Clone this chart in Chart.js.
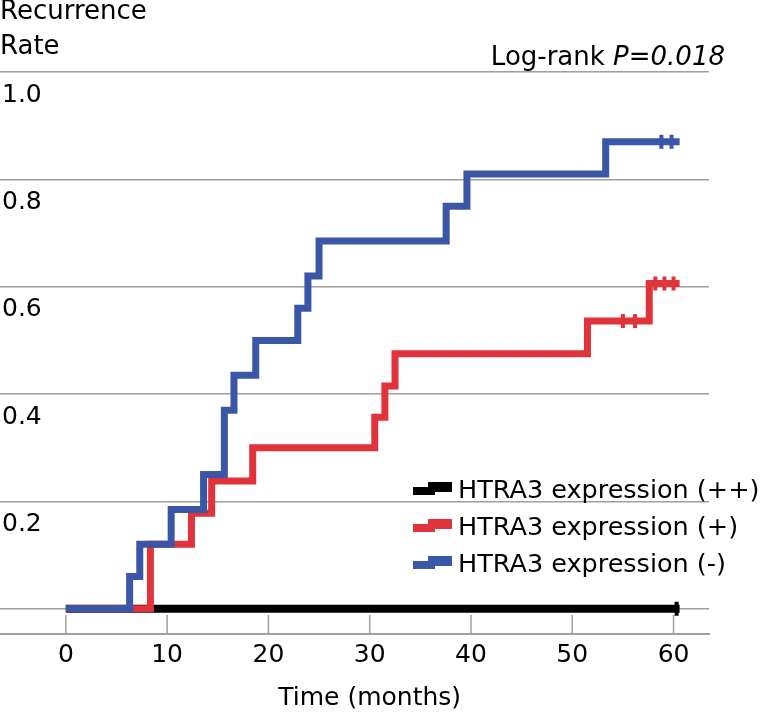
<!DOCTYPE html>
<html>
<head>
<meta charset="utf-8">
<script src="https://cdn.jsdelivr.net/npm/chart.js@4.4.1/dist/chart.umd.min.js"></script>
<style>
html, body { margin: 0; padding: 0; background: #fff; }
#wrap { width: 762px; height: 712px; }
</style>
</head>
<body>
<div id="wrap"><canvas id="kmChart" width="762" height="712"></canvas></div>
<script>
// axis ticks
var xTicks = [0, 10, 20, 30, 40, 50, 60];
var xTickLabels = ['0', '10', '20', '30', '40', '50', '60'];
var yTicks = [0, 0.2, 0.4, 0.6, 0.8, 1.0];
var yTickLabels = ['', '0.2', '0.4', '0.6', '0.8', '1.0'];

var seriesLabels = ['HTRA3 expression (++)', 'HTRA3 expression (+)', 'HTRA3 expression (-)'];
var seriesColors = ['#000000', '#e1333b', '#3a56a6'];

// HTRA3 (++) : no recurrence
var strongTimes = [0, 60.6];
var strongRates = [0, 0];
var strongCensorTimes = [60.3];
var strongCensorRates = [0];

// HTRA3 (+)
var weakTimes = [0, 8.35, 12.4, 14.4, 18.45, 30.5, 31.5, 32.5, 51.5, 57.6, 60.6];
var weakRates = [0, 0.12, 0.178, 0.238, 0.3, 0.357, 0.415, 0.475, 0.536, 0.606, 0.606];
var weakCensorTimes = [55.0, 56.2, 58.2, 59.1, 60.0];
var weakCensorRates = [0.536, 0.536, 0.606, 0.606, 0.606];

// HTRA3 (-)
var negTimes = [0, 6.3, 7.3, 10.4, 13.6, 15.65, 16.6, 18.75, 22.9, 23.9, 25.0, 37.55, 39.6, 53.3, 60.6];
var negRates = [0, 0.06, 0.12, 0.185, 0.25, 0.37, 0.435, 0.5, 0.56, 0.62, 0.685, 0.75, 0.81, 0.87, 0.87];
var negCensorTimes = [58.8, 59.8];
var negCensorRates = [0.87, 0.87];

var xTitle = 'Time (months)';
var yTitle = ['Recurrence', 'Rate'];
var pText = 'Log-rank ';
var pValue = 'P=0.018';

var fontFam = '"DejaVu Sans", sans-serif';
var gridColor = '#a0a0a0';

function toPoints(t, v) {
  return t.map(function (x, i) { return { x: x, y: v[i] }; });
}

function curve(i, t, v, w, ord) {
  return {
    label: seriesLabels[i],
    data: toPoints(t, v),
    borderColor: seriesColors[i],
    borderWidth: w,
    stepped: 'before',
    pointRadius: 0,
    fill: false,
    borderJoinStyle: 'miter',
    borderCapStyle: 'butt',
    order: ord
  };
}

function censor(i, t, v) {
  return {
    label: seriesLabels[i] + ' censored',
    data: toPoints(t, v),
    showLine: false,
    borderColor: seriesColors[i],
    backgroundColor: seriesColors[i],
    pointStyle: 'line',
    rotation: 90,
    pointRadius: 7,
    borderWidth: 4,
    order: 0
  };
}

var kmExtras = {
  id: 'kmExtras',
  beforeDatasetsDraw: function (chart) {
    var ctx = chart.ctx, x = chart.scales.x, area = chart.chartArea;
    ctx.save();
    ctx.strokeStyle = gridColor;
    ctx.lineWidth = 1.5;
    x.ticks.forEach(function (t) {
      var px = x.getPixelForValue(t.value);
      ctx.beginPath();
      ctx.moveTo(px, area.bottom);
      ctx.lineTo(px, area.bottom - 19);
      ctx.stroke();
    });
    ctx.restore();
  },
  afterDraw: function (chart) {
    var ctx = chart.ctx, x = chart.scales.x;
    ctx.save();
    ctx.fillStyle = '#000';
    ctx.textBaseline = 'alphabetic';

    // axis title centred on the 0-60 span
    ctx.font = '25px ' + fontFam;
    var cx = (x.getPixelForValue(xTicks[0]) + x.getPixelForValue(xTicks[xTicks.length - 1])) / 2;
    ctx.textAlign = 'center';
    ctx.fillText(xTitle, cx, 705);

    // log-rank note
    ctx.textAlign = 'left';
    ctx.font = '26px ' + fontFam;
    var wp = ctx.measureText(pText).width;
    ctx.font = 'italic 26px ' + fontFam;
    var wi = ctx.measureText(pValue).width;
    ctx.fillText(pValue, 725 - wi, 65);
    ctx.font = '26px ' + fontFam;
    ctx.fillText(pText, 725 - wi - wp, 65);

    // legend
    ctx.font = '25.5px ' + fontFam;
    seriesLabels.forEach(function (lab, i) {
      var base = 498 + i * 37;
      ctx.fillStyle = seriesColors[i];
      ctx.fillRect(413, base - 11, 22, 8);
      ctx.fillRect(428, base - 16, 24, 10);
      ctx.fillStyle = '#000';
      ctx.fillText(lab, 458, base);
    });
    ctx.restore();
  }
};

var ctx = document.getElementById('kmChart').getContext('2d');
var kmChart = new Chart(ctx, {
  type: 'line',
  data: {
    datasets: [
      curve(0, strongTimes, strongRates, 8, 3),
      curve(1, weakTimes, weakRates, 7, 2),
      curve(2, negTimes, negRates, 7, 1),
      censor(0, strongCensorTimes, strongCensorRates),
      censor(1, weakCensorTimes, weakCensorRates),
      censor(2, negCensorTimes, negCensorRates)
    ]
  },
  options: {
    responsive: false,
    animation: false,
    events: [],
    layout: { autoPadding: false, padding: { left: 0, right: 53, top: 0, bottom: 36 } },
    plugins: {
      legend: { display: false },
      tooltip: { enabled: false },
      title: {
        display: true,
        text: yTitle,
        align: 'start',
        color: '#000',
        font: { family: fontFam, size: 26, weight: 'normal', lineHeight: 35 / 26 },
        padding: { top: -5, bottom: 7 }
      }
    },
    scales: {
      x: {
        type: 'linear',
        min: -6.5,
        max: 63.5,
        afterBuildTicks: function (scale) {
          scale.ticks = xTicks.map(function (v) { return { value: v }; });
        },
        afterFit: function (scale) {
          scale.paddingLeft = 0;
          scale.paddingRight = 0;
        },
        grid: { display: false, drawTicks: false },
        border: { display: true, color: gridColor, width: 2 },
        ticks: {
          color: '#000',
          padding: 6,
          autoSkip: false,
          maxRotation: 0,
          font: { family: fontFam, size: 25 },
          callback: function (v, i) { return xTickLabels[i]; }
        }
      },
      y: {
        type: 'linear',
        min: -0.047,
        max: 1.0,
        afterBuildTicks: function (scale) {
          scale.ticks = yTicks.map(function (v) { return { value: v }; });
        },
        afterFit: function (scale) {
          scale.width = 0;
        },
        grid: { color: gridColor, lineWidth: 1.5, drawTicks: false },
        border: { display: false },
        ticks: {
          mirror: true,
          padding: 2,
          labelOffset: 23,
          color: '#000',
          autoSkip: false,
          font: { family: fontFam, size: 25 },
          callback: function (v, i) { return yTickLabels[i]; }
        }
      }
    }
  },
  plugins: [kmExtras]
});
</script>
</body>
</html>
